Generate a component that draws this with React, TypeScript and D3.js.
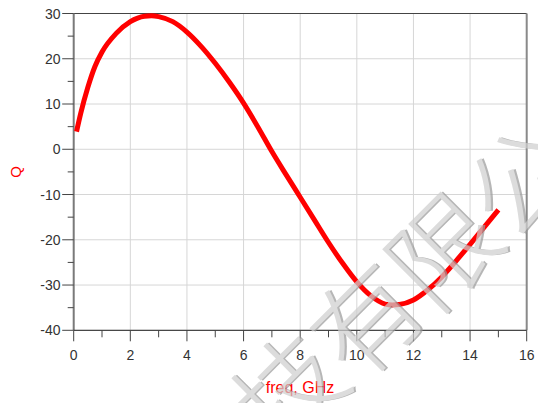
import React from "react";
import * as d3 from "d3";

const freq = [0.1, 0.25, 0.5, 0.75, 1.0, 1.5, 2.0, 2.5, 2.75, 3.0, 3.5, 4.0, 4.5, 5.0, 5.5, 6.0, 6.5, 7.0, 7.5, 8.0, 8.5, 9.0, 9.5, 10.0, 10.5, 11.0, 11.25, 11.5, 12.0, 12.5, 13.0, 13.5, 14.0, 14.5, 15.0];
const qVals = [3.9, 8.0, 13.7, 18.3, 21.5, 25.6, 28.2, 29.4, 29.5, 29.3, 28.2, 25.9, 22.75, 19.0, 14.8, 10.2, 5.0, -0.5, -5.6, -10.6, -15.6, -20.6, -25.2, -29.3, -32.4, -34.2, -34.4, -34.3, -33.3, -31.1, -28.2, -24.7, -21.0, -17.2, -13.4];
const xTicks = [0, 2, 4, 6, 8, 10, 12, 14, 16];
const yTicks = [30, 20, 10, 0, -10, -20, -30, -40];
const xMinor = d3.range(0, 17, 1);
const yMinor = d3.range(-40, 31, 5);
const watermarkChars = ["技", "有", "限", "公", "司"];

export default function App() {
  const W = 538, H = 403;
  const x = d3.scaleLinear().domain([0, 16]).range([73.7, 526.7]);
  const y = d3.scaleLinear().domain([-40, 30]).range([330.3, 13.5]);
  const data = freq.map((f, i) => [f, qVals[i]] as [number, number]);
  const line = d3.line<[number, number]>().x(d => x(d[0])).y(d => y(d[1])).curve(d3.curveMonotoneX);
  const font = "'Liberation Sans', Arial, sans-serif";
  const baseAng = -42;
  const glyphAng = -45;
  const rad = (baseAng * Math.PI) / 180;
  const step = 104;
  const c0 = [368 - step * Math.cos(rad), 322 - step * Math.sin(rad)];
  return (
    <svg width={W} height={H} style={{ position: "absolute", left: 0, top: 0, background: "#fff" }}>
      {xTicks.map(t => (
        <line key={"gx" + t} x1={x(t)} x2={x(t)} y1={y(30)} y2={y(-40)} stroke="#d6d6d6" strokeWidth={1} />
      ))}
      {yTicks.map(t => (
        <line key={"gy" + t} x1={x(0)} x2={x(16)} y1={y(t)} y2={y(t)} stroke="#d6d6d6" strokeWidth={1} />
      ))}
      <line x1={x(0)} x2={x(16)} y1={y(30)} y2={y(30)} stroke="#444" strokeWidth={1} />
      <line x1={x(16)} x2={x(16)} y1={y(30)} y2={y(-40)} stroke="#8a8a8a" strokeWidth={2} />
      <line x1={x(0)} x2={x(0)} y1={y(30)} y2={y(-40)} stroke="#7a7a7a" strokeWidth={2} />
      <line x1={x(0)} x2={x(16)} y1={y(-40)} y2={y(-40)} stroke="#222" strokeWidth={1} />
      {yMinor.map(t => (
        <line key={"ym" + t} x1={x(0) - (t % 10 === 0 ? 11.5 : 6)} x2={x(0)} y1={y(t)} y2={y(t)} stroke="#444" strokeWidth={1} />
      ))}
      {xMinor.map(t => (
        <line key={"xm" + t} x1={x(t)} x2={x(t)} y1={y(-40)} y2={y(-40) + (t % 2 === 0 ? 11 : 7)} stroke="#444" strokeWidth={1} />
      ))}
      {yTicks.map(t => (
        <text key={"yl" + t} x={60.5} y={y(t)} dy="0.36em" textAnchor="end" fontFamily={font} fontSize={14} fill="#333">{t}</text>
      ))}
      {xTicks.map(t => (
        <text key={"xl" + t} x={x(t)} y={359.5} textAnchor="middle" fontFamily={font} fontSize={14} fill="#333">{t}</text>
      ))}
      <path d={line(data) || ""} fill="none" stroke="#ff0000" strokeWidth={5} strokeLinecap="butt" />
      <text transform={`translate(21,172) rotate(-90)`} textAnchor="middle" fontFamily={font} fontSize={15} fill="#ff0000">Q</text>
      <text x={300} y={393} textAnchor="middle" fontFamily={font} fontSize={16} fill="#ff0000">freq, GHz</text>
      <g opacity={0.72}>
        {watermarkChars.map((c, i) => {
          const cx = c0[0] + i * step * Math.cos(rad);
          const cy = c0[1] + i * step * Math.sin(rad);
          return (
            <g key={"wm" + i} transform={`translate(${cx},${cy}) rotate(${glyphAng})`}>
              <text x={1.5} y={1.5} textAnchor="middle" dy="0.35em"
                fontFamily="'Noto Sans CJK SC', sans-serif" fontWeight={300} fontSize={106}
                fill="#9a9a9a">{c}</text>
              <text textAnchor="middle" dy="0.35em"
                fontFamily="'Noto Sans CJK SC', sans-serif" fontWeight={300} fontSize={106}
                fill="#cfcfcf">{c}</text>
            </g>
          );
        })}
      </g>
    </svg>
  );
}
